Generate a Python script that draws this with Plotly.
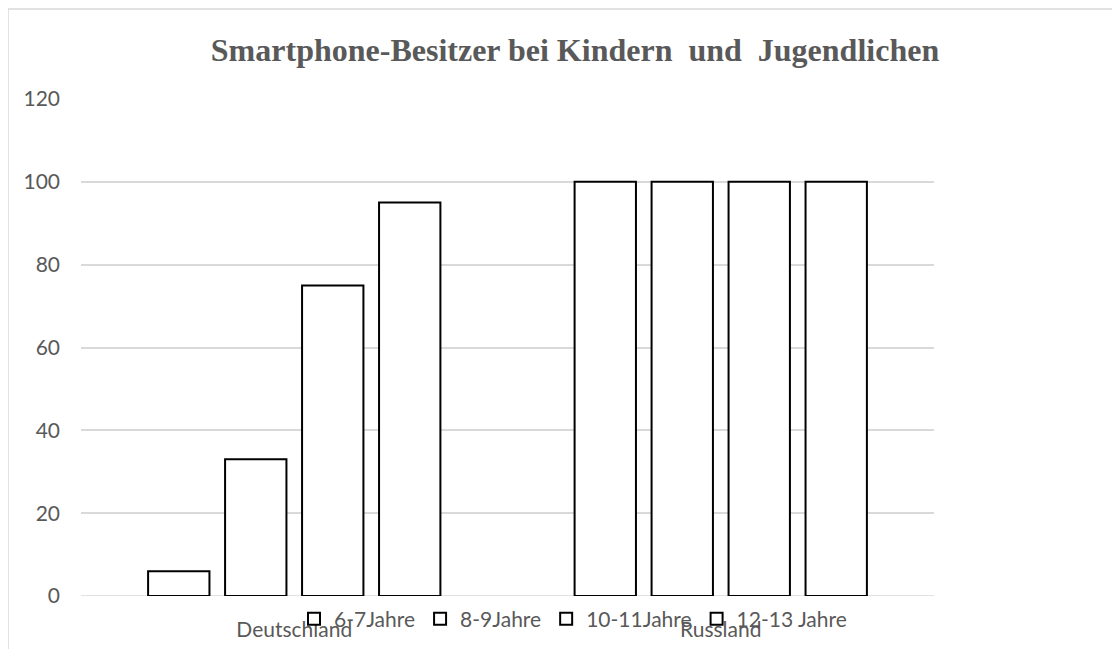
import plotly.graph_objects as go

categories = ["Deutschland", "Russland"]
series_names = ["6-7Jahre", "8-9Jahre", "10-11Jahre", "12-13 Jahre"]
values_6_7 = [6, 100]
values_8_9 = [33, 100]
values_10_11 = [75, 100]
values_12_13 = [95, 100]
y_ticks = [0, 20, 40, 60, 80, 100, 120]

series_values = [values_6_7, values_8_9, values_10_11, values_12_13]

gray = "#595959"
fig = go.Figure()
for name, vals in zip(series_names, series_values):
    fig.add_trace(go.Bar(
        x=categories, y=vals, name=name,
        marker=dict(color="white", line=dict(color="black", width=2)),
    ))

# page body has an 8px margin, so the figure is offset by 8px
W, H = 1112, 641
ml, mr, mt, mb = 73, 186, 91, 53
pw, ph = W - ml - mr, H - mt - mb
base = H - mb

fig.update_layout(
    width=W, height=H,
    margin=dict(l=ml, r=mr, t=mt, b=mb, autoexpand=False),
    paper_bgcolor="white", plot_bgcolor="white",
    barmode="group", bargap=0.278, bargroupgap=0.203,
    font=dict(family="Lato", size=20, color=gray),
    title=dict(
        text="Smartphone-Besitzer bei Kindern&nbsp; und&nbsp; Jugendlichen",
        font=dict(family="Liberation Serif", size=32, color=gray, weight="bold"),
        x=567 / W, xanchor="center", y=1 - 42 / H, yanchor="middle",
    ),
    xaxis=dict(
        showgrid=False, showline=False, zeroline=False,
        ticks="", ticklabelstandoff=19,
        tickfont=dict(family="Lato", size=21, color=gray),
    ),
    yaxis=dict(
        range=[0, 120], tickvals=y_ticks, showgrid=True,
        gridcolor="#d9d9d9", gridwidth=1.5, zeroline=False, showline=False,
        ticks="", ticklabelstandoff=20,
        tickfont=dict(family="Lato", size=21, color=gray),
    ),
    showlegend=True,
    legend=dict(
        orientation="h", x=(565 - ml) / pw, xanchor="center",
        y=-(611 - base) / ph, yanchor="middle",
        font=dict(family="Lato", size=21, color=gray),
        bgcolor="rgba(0,0,0,0)", itemwidth=30, tracegroupgap=0,
    ),
    shapes=[
        dict(type="line", xref="paper", yref="y", x0=0, x1=1, y0=0, y1=0,
             line=dict(color="#d9d9d9", width=1.5), layer="below"),
        dict(type="rect", xref="paper", yref="paper",
             x0=(0 - ml) / pw, x1=(1130 - ml) / pw,
             y0=-(660 - base) / ph, y1=1 + (mt - 1) / ph,
             line=dict(color="#d9d9d9", width=1.5), fillcolor="rgba(0,0,0,0)",
             layer="below"),
    ],
)

fig.write_html("out.html")
